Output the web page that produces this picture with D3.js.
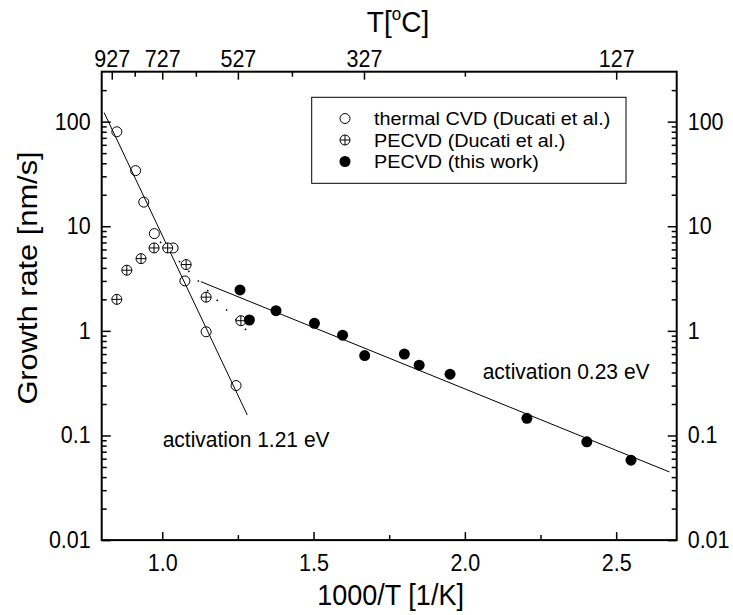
<!DOCTYPE html>
<html>
<head>
<meta charset="utf-8">
<script src="https://cdn.jsdelivr.net/npm/d3@7"></script>
<style>
  body { margin: 0; background: #fff; }
  svg { display: block; font-family: "Liberation Sans", Arial, sans-serif; }
</style>
</head>
<body>
<svg id="chart" width="733" height="615"></svg>
<script>
// data
const thermalX = [0.850, 0.912, 0.939, 0.974, 1.036, 1.075, 1.145, 1.244];
const thermalY = [80, 34, 17, 8.5, 6.2, 3.0, 0.98, 0.30];

const ducatiX = [0.850, 0.883, 0.930, 0.973, 1.018, 1.079, 1.145, 1.260];
const ducatiY = [2.0, 3.8, 4.9, 6.2, 6.2, 4.3, 2.1, 1.25];

const thisWorkX = [1.257, 1.288, 1.376, 1.503, 1.596, 1.669, 1.800, 1.849, 1.951, 2.205, 2.403, 2.549];
const thisWorkY = [2.46, 1.27, 1.56, 1.18, 0.91, 0.58, 0.60, 0.47, 0.385, 0.146, 0.087, 0.058];

// fit lines (end points)
const fitHighX = [0.808, 1.281];
const fitHighY = [122, 0.157];
const fitLowX = [1.128, 2.676];
const fitLowY = [2.95, 0.0448];
const fitDucatiX = [0.993, 1.277];
const fitDucatiY = [7.1, 1.02];

// tick values / labels
const xMajor = [1.0, 1.5, 2.0, 2.5];
const xMinor = [1.25, 1.75, 2.25];
const yMajor = [0.01, 0.1, 1, 10, 100];
const topMajorC = [927, 727, 527, 327, 127];
const topMinorC = [827, 627, 427, 227];

const legendLabels = ["thermal CVD (Ducati et al.)", "PECVD (Ducati et al.)", "PECVD (this work)"];
const notes = ["activation 1.21 eV", "activation 0.23 eV"];

const W = 733, H = 615;
const margin = { top: 71.7, right: 56.3, bottom: 74.9, left: 101.7 };
const K = 1.08; // glyphs in the figure are a bit taller than wide

const svg = d3.select("#chart");

const x = d3.scaleLinear().domain([0.8, 2.7]).range([margin.left, W - margin.right]);
const y = d3.scaleLog().domain([0.01, 300]).range([H - margin.bottom, margin.top]);

const yMinor = d3.range(-2, 3).flatMap(e => d3.range(2, 10).map(m => m * Math.pow(10, e)))
  .filter(v => v < 300);

const toInv = c => 1000 / (c + 273);

function styleAxis(g, size) {
  g.select(".domain").remove();
  g.selectAll("line").attr("stroke", "#000").attr("stroke-width", 1.5);
  g.selectAll("text").attr("font-size", size).attr("fill", "#000")
    .attr("font-family", "Liberation Sans, Arial, sans-serif")
    .attr("transform", `scale(1,${K})`);
}

// left
svg.append("g").attr("transform", `translate(${margin.left},0)`)
  .call(d3.axisLeft(y).tickValues(yMajor).tickFormat(d3.format("~g")).tickSize(-9).tickPadding(11))
  .call(g => styleAxis(g, 21.5));
svg.append("g").attr("transform", `translate(${margin.left},0)`)
  .call(d3.axisLeft(y).tickValues(yMinor).tickFormat("").tickSize(-5))
  .call(g => styleAxis(g, 0));

// right
svg.append("g").attr("transform", `translate(${W - margin.right},0)`)
  .call(d3.axisRight(y).tickValues(yMajor).tickFormat(d3.format("~g")).tickSize(-9).tickPadding(11))
  .call(g => styleAxis(g, 21.5));
svg.append("g").attr("transform", `translate(${W - margin.right},0)`)
  .call(d3.axisRight(y).tickValues(yMinor).tickFormat("").tickSize(-5))
  .call(g => styleAxis(g, 0));

// bottom
svg.append("g").attr("transform", `translate(0,${H - margin.bottom})`)
  .call(d3.axisBottom(x).tickValues(xMajor).tickFormat(d3.format(".1f")).tickSize(-8).tickPadding(13.4))
  .call(g => styleAxis(g, 21.5));
svg.append("g").attr("transform", `translate(0,${H - margin.bottom})`)
  .call(d3.axisBottom(x).tickValues(xMinor).tickFormat("").tickSize(-5))
  .call(g => styleAxis(g, 0));

// top (temperature in C)
svg.append("g").attr("transform", `translate(0,${margin.top})`)
  .call(d3.axisTop(x).tickValues(topMajorC.map(toInv)).tickFormat((d, i) => topMajorC[i]).tickSize(-8).tickPadding(4.4))
  .call(g => styleAxis(g, 21.5));
svg.append("g").attr("transform", `translate(0,${margin.top})`)
  .call(d3.axisTop(x).tickValues(topMinorC.map(toInv)).tickFormat("").tickSize(-5))
  .call(g => styleAxis(g, 0));

// frame
svg.append("rect")
  .attr("x", margin.left).attr("y", margin.top)
  .attr("width", W - margin.left - margin.right)
  .attr("height", H - margin.top - margin.bottom)
  .attr("fill", "none").attr("stroke", "#000").attr("stroke-width", 2);

// titles
function label(px, py, txt, size, anchor) {
  return svg.append("text")
    .attr("transform", `translate(${px},${py}) scale(1,${K})`)
    .attr("text-anchor", anchor || "start")
    .attr("font-size", size)
    .attr("fill", "#000")
    .text(txt);
}

label(390.6, 605, "1000/T [1/K]", 27, "middle");

const tTitle = svg.append("text")
  .attr("transform", `translate(398,32) scale(1,${K})`)
  .attr("text-anchor", "middle").attr("font-size", 28).attr("fill", "#000");
tTitle.append("tspan").text("T[");
tTitle.append("tspan").attr("font-size", 17).attr("dy", -11).text("o");
tTitle.append("tspan").attr("dy", 11).text("C]");

svg.append("text")
  .attr("transform", `translate(27,278) rotate(-90) scale(1.1,1)`)
  .attr("text-anchor", "middle").attr("dy", "0.35em")
  .attr("font-size", 28).attr("fill", "#000")
  .text("Growth rate [nm/s]");

// fit lines
const line = d3.line().x(d => x(d[0])).y(d => y(d[1]));
const plot = svg.append("g");

plot.append("path").datum(d3.zip(fitHighX, fitHighY)).attr("d", line)
  .attr("fill", "none").attr("stroke", "#000").attr("stroke-width", 1);
plot.append("path").datum(d3.zip(fitLowX, fitLowY)).attr("d", line)
  .attr("fill", "none").attr("stroke", "#000").attr("stroke-width", 1);
plot.append("path").datum(d3.zip(fitDucatiX, fitDucatiY)).attr("d", line)
  .attr("fill", "none").attr("stroke", "#000").attr("stroke-width", 1.6)
  .attr("stroke-dasharray", "1.5,12");

// markers
const R = 5;
function openCircle(g) {
  g.append("circle").attr("r", R).attr("fill", "none").attr("stroke", "#000").attr("stroke-width", 1);
}
function crossCircle(g) {
  g.append("circle").attr("r", R).attr("fill", "#fff").attr("stroke", "#000").attr("stroke-width", 1);
  g.append("path").attr("d", `M${-R},0H${R}M0,${-R}V${R}`).attr("stroke", "#000").attr("stroke-width", 1);
}
function filledCircle(g) {
  g.append("circle").attr("r", R + 0.5).attr("fill", "#000");
}

plot.selectAll(".thermal").data(d3.zip(thermalX, thermalY)).join("g")
  .attr("class", "thermal")
  .attr("transform", d => `translate(${x(d[0])},${y(d[1])})`)
  .each(function () { openCircle(d3.select(this)); });

plot.selectAll(".ducati").data(d3.zip(ducatiX, ducatiY)).join("g")
  .attr("class", "ducati")
  .attr("transform", d => `translate(${x(d[0])},${y(d[1])})`)
  .each(function () { crossCircle(d3.select(this)); });

plot.selectAll(".thiswork").data(d3.zip(thisWorkX, thisWorkY)).join("g")
  .attr("class", "thiswork")
  .attr("transform", d => `translate(${x(d[0])},${y(d[1])})`)
  .each(function () { filledCircle(d3.select(this)); });

// annotations
label(162.7, 446.7, notes[0], 21);
label(482.7, 379, notes[1], 21);

// legend
const lg = svg.append("g");
lg.append("rect").attr("x", 311.7).attr("y", 97.3).attr("width", 314.3).attr("height", 86)
  .attr("fill", "#fff").attr("stroke", "#000").attr("stroke-width", 1);
const markers = [openCircle, crossCircle, filledCircle];
legendLabels.forEach((t, i) => {
  const ry = 118.5 + i * 21.5;
  const m = lg.append("g").attr("transform", `translate(345,${ry})`);
  markers[i](m);
  lg.append("text")
    .attr("transform", `translate(374,${ry + 6.5}) scale(1.07,1)`)
    .attr("font-size", 18.5).attr("fill", "#000")
    .text(t);
});
</script>
</body>
</html>
